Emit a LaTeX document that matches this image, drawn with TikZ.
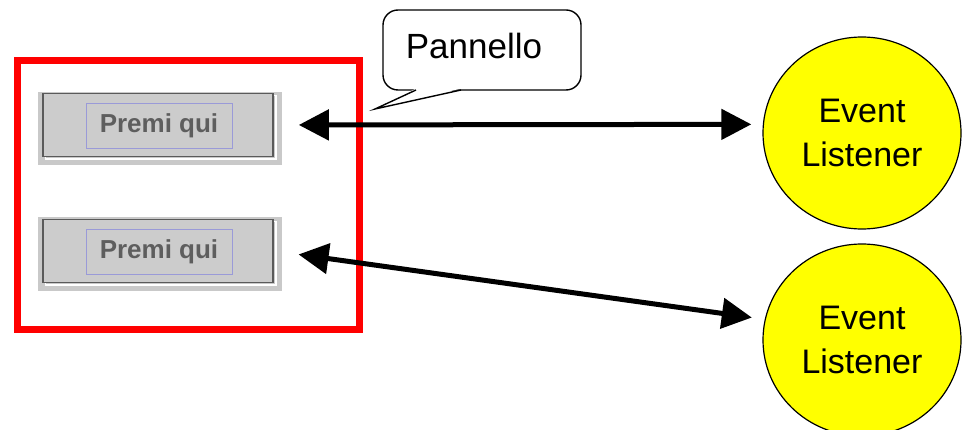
\documentclass[tikz,border=0pt]{standalone}
\usepackage{fontspec}
\setmainfont{Liberation Sans}
\usetikzlibrary{arrows.meta,shapes.geometric}
\definecolor{btnbg}{HTML}{CCCCCC}
\definecolor{btnouter}{HTML}{C9C9C9}
\definecolor{btndark}{HTML}{5A5A5A}
\definecolor{btnblue}{HTML}{9A9AD8}
\definecolor{btntext}{HTML}{5E5E5E}
\definecolor{lyellow}{HTML}{FFFF00}
\tikzset{
  btnouterbox/.style={fill=btnouter, draw=none, minimum width=244pt, minimum height=73pt, inner sep=0pt},
  btnface/.style={fill=btnbg, draw=btndark, line width=1.6pt, minimum width=230pt, minimum height=63pt, inner sep=0pt},
  btnlabel/.style={draw=btnblue, line width=0.8pt, minimum width=146pt, minimum height=45pt, inner sep=0pt,
    text=btntext, font=\fontsize{26}{28}\selectfont\bfseries},
  listener/.style={ellipse, draw=black, line width=1.2pt, fill=lyellow, minimum width=198pt, minimum height=192pt,
    inner sep=0pt, align=center, font=\fontsize{34}{44}\selectfont},
  dblarrow/.style={line width=5pt, {Triangle[length=30pt,width=30pt]}-{Triangle[length=30pt,width=30pt]}},
  panel/.style={draw=red, line width=7pt},
  calloutbox/.style={draw=black, line width=1.4pt, fill=white, rounded corners=15pt, minimum width=198pt, minimum height=80pt, inner sep=0pt},
}
\begin{document}
\begin{tikzpicture}[x=1pt,y=-1pt]
\useasboundingbox (0,0) rectangle (963,430);
\clip (0,0) rectangle (963,430);
\fill[white] (0,0) rectangle (963,430);

% red panel
\draw[panel] (17.5,60.5) rectangle (359,329.5);

% buttons
\node[btnouterbox] (b1) at (160,128.5) {};
\draw[white, line width=1.2pt] (45.5,95.5) rectangle (276,159);
\node[btnface] (b1f) at (158,125) {};
\node[btnlabel] (b1l) at (159,125.5) {Premi qui};

\node[btnouterbox] (b2) at (160,254) {};
\draw[white, line width=1.2pt] (45.5,221.5) rectangle (276,285);
\node[btnface] (b2f) at (158,251) {};
\node[btnlabel] (b2l) at (159,252) {Premi qui};

% listeners
\node[listener] (c1) at (862,133) {Event\\Listener};
\node[listener] (c2) at (862,340) {Event\\Listener};

% arrows
\draw[dblarrow, shorten <=25pt, shorten >=11.5pt] (b1f.east) -- (c1.175);
\draw[dblarrow, shorten <=25pt, shorten >=13pt] (b2f.east) -- (c2.168);

% callout
\node[calloutbox] (pan) at (482,50) {};
\node[font=\fontsize{35}{40}\selectfont, inner sep=0pt] (pantext) at (474,46) {Pannello};
\coordinate (tip) at (375,109);
\fill[white] (416,88.5) -- (tip) -- (461,88.5) -- cycle;
\draw[line width=1.4pt, line join=miter] (416,90) -- (tip) -- (461,90);
\end{tikzpicture}
\end{document}
